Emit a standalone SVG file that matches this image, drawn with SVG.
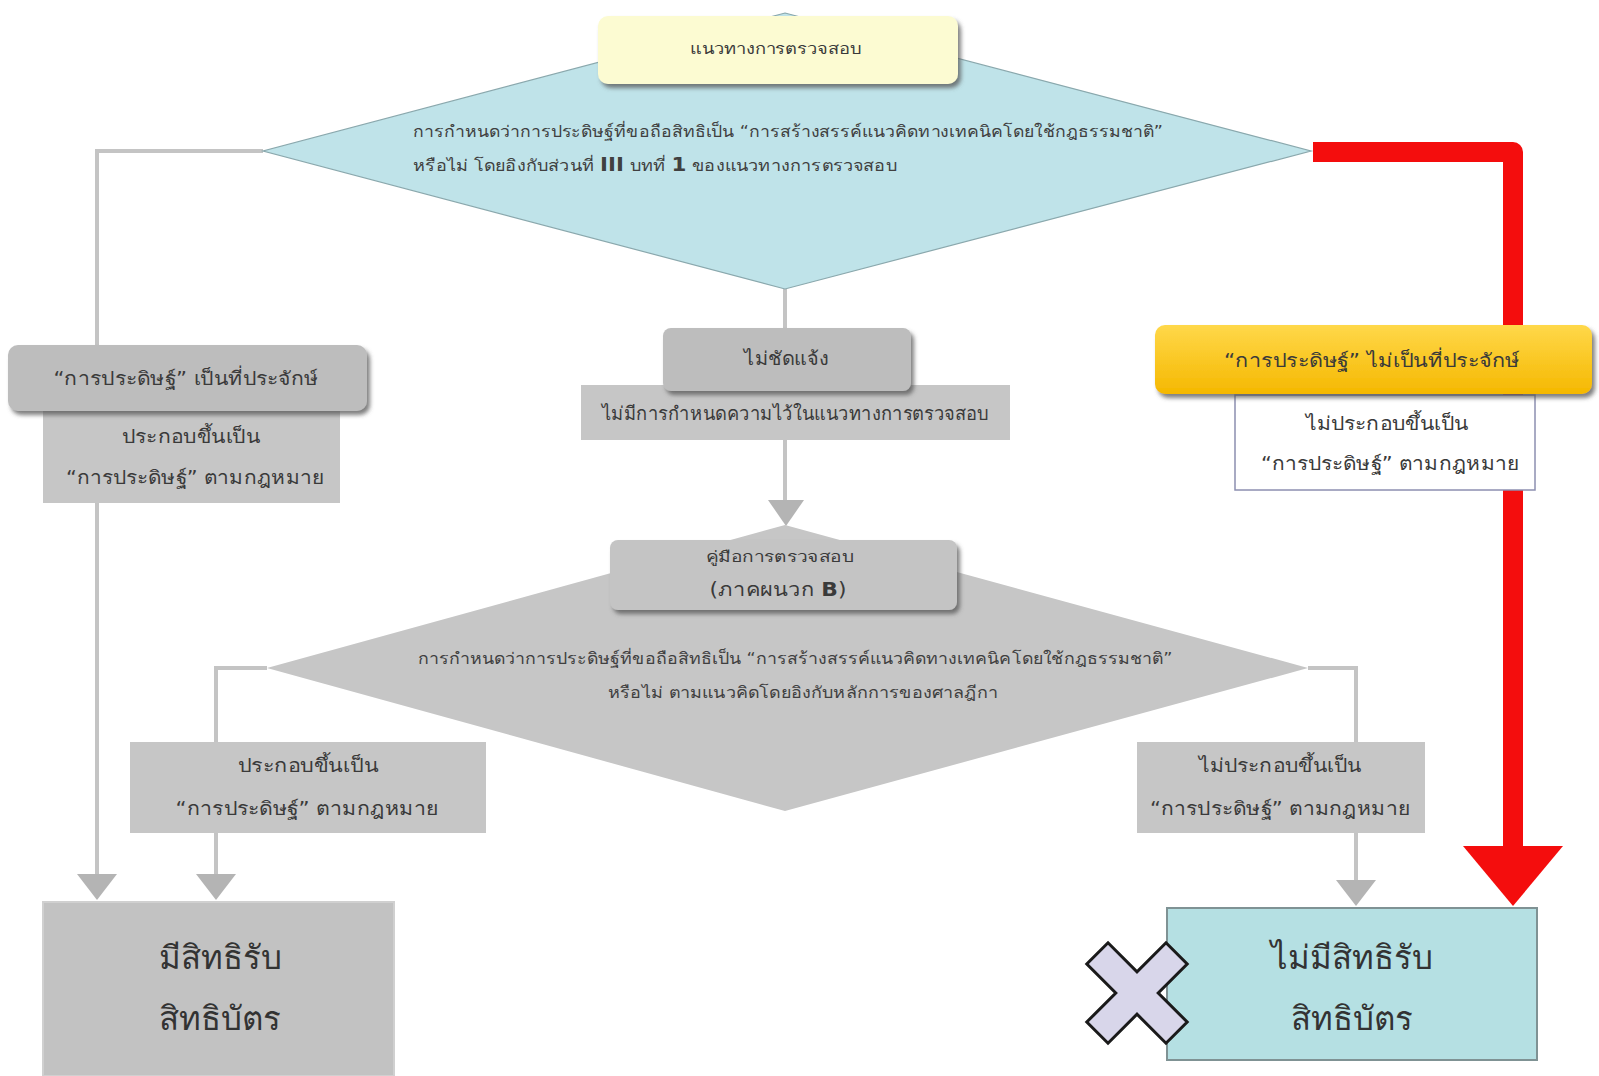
<svg xmlns="http://www.w3.org/2000/svg" width="1599" height="1076" viewBox="0 0 1599 1076">
  <defs>
    <filter id="shadow" x="-10%" y="-20%" width="130%" height="160%">
      <feDropShadow dx="3" dy="4" stdDeviation="2" flood-color="#555" flood-opacity="0.75"/>
    </filter>
    <linearGradient id="gold" x1="0" y1="0" x2="0" y2="1">
      <stop offset="0" stop-color="#ffd84a"/>
      <stop offset="1" stop-color="#f5b800"/>
    </linearGradient>
    <style>
      text { font-family: "DejaVu Sans", "Noto Sans", sans-serif; fill: #3a3a3a; text-anchor: middle; }
      text.start { text-anchor: start; }
      .small { font-size: 15px; }
      .dia { font-size: 16px; fill: #404040; }
      .mid { font-size: 19px; }
      .big { font-size: 33px; fill: #333; }
      .conn { fill: none; stroke: #c4c4c4; stroke-width: 4; }
      .head { fill: #bdbdbd; }
      .grey { fill: #c6c6c6; }
    </style>
  </defs>
  <rect width="1599" height="1076" fill="#ffffff"/>

  <!-- connectors -->
  <g id="connectors">
    <path class="conn" d="M263,151 H97 V880"/>
    <path class="conn" d="M785,289 V505" stroke-width="6"/>
    <path class="conn" d="M267,668 H216 V880"/>
    <path class="conn" d="M1308,668 H1356 V884"/>
    <polygon points="77,874 117,874 97,900" fill="#b4b4b4"/>
    <polygon points="196,874 236,874 216,900" fill="#b4b4b4"/>
    <polygon points="1336,880 1376,880 1356,906" fill="#b4b4b4"/>
    <polygon points="768,500 804,500 786,526" fill="#b4b4b4"/>
    <!-- heavy red route on the right -->
    <path d="M1313,152 H1513 V850" fill="none" stroke="#f40d0d" stroke-width="20" stroke-linejoin="round"/>
    <polygon points="1463,846 1563,846 1513,906" fill="#f40d0d"/>
  </g>

  <!-- upper decision -->
  <g id="decision1">
    <polygon points="785,13 1311,151 785,289 263,151" fill="#bfe3e9" stroke="#8aa8ad" stroke-width="1.2"/>
    <text class="dia start" x="413" y="137" textLength="750" lengthAdjust="spacingAndGlyphs">การกำหนดว่าการประดิษฐ์ที่ขอถือสิทธิเป็น “การสร้างสรรค์แนวคิดทางเทคนิคโดยใช้กฎธรรมชาติ”</text>
    <text class="dia start" x="413" y="171" textLength="484" lengthAdjust="spacingAndGlyphs">หรือไม่ โดยอิงกับส่วนที่ <tspan font-weight="bold" font-size="19">III</tspan> บทที่ <tspan font-weight="bold" font-size="19">1</tspan> ของแนวทางการตรวจสอบ</text>
  </g>

  <g id="guideline">
    <rect x="598" y="16" width="360" height="68" rx="10" fill="#fcfbd2" filter="url(#shadow)"/>
    <text class="small" x="776" y="54" textLength="172" lengthAdjust="spacingAndGlyphs">แนวทางการตรวจสอบ</text>
  </g>

  <!-- left branch -->
  <g id="obvious">
    <rect x="43" y="405" width="297" height="98" class="grey"/>
    <rect x="8" y="345" width="359" height="66" rx="10" class="head" filter="url(#shadow)"/>
    <text class="mid" x="186" y="385" textLength="265" lengthAdjust="spacingAndGlyphs">“การประดิษฐ์” เป็นที่ประจักษ์</text>
    <text class="mid" x="191" y="443" textLength="138" lengthAdjust="spacingAndGlyphs">ประกอบขึ้นเป็น</text>
    <text class="mid" x="195" y="484" textLength="258" lengthAdjust="spacingAndGlyphs">“การประดิษฐ์” ตามกฎหมาย</text>
  </g>

  <!-- centre branch -->
  <g id="unclear">
    <rect x="581" y="385" width="429" height="55" class="grey"/>
    <rect x="663" y="328" width="248" height="63" rx="8" class="head" filter="url(#shadow)"/>
    <text class="mid" x="786" y="365" textLength="84" lengthAdjust="spacingAndGlyphs">ไม่ชัดแจ้ง</text>
    <text class="mid" x="795" y="420" textLength="387" lengthAdjust="spacingAndGlyphs">ไม่มีการกำหนดความไว้ในแนวทางการตรวจสอบ</text>
  </g>

  <!-- lower decision -->
  <g id="decision2">
    <polygon points="785,525 1308,668 785,811 267,668" fill="#c6c6c6"/>
    <text class="dia" x="795" y="664" textLength="755" lengthAdjust="spacingAndGlyphs">การกำหนดว่าการประดิษฐ์ที่ขอถือสิทธิเป็น “การสร้างสรรค์แนวคิดทางเทคนิคโดยใช้กฎธรรมชาติ”</text>
    <text class="dia" x="803" y="698" textLength="390" lengthAdjust="spacingAndGlyphs">หรือไม่ ตามแนวคิดโดยอิงกับหลักการของศาลฎีกา</text>
  </g>

  <g id="handbook">
    <rect x="610" y="540" width="347" height="70" rx="8" fill="#c4c4c4" filter="url(#shadow)"/>
    <text class="small" x="780" y="562" textLength="149" lengthAdjust="spacingAndGlyphs">คู่มือการตรวจสอบ</text>
    <text class="mid" x="778" y="596" textLength="137" lengthAdjust="spacingAndGlyphs">(ภาคผนวก <tspan font-weight="bold">B</tspan>)</text>
  </g>

  <g id="lower-yes">
    <rect x="130" y="742" width="356" height="91" class="grey"/>
    <text class="mid" x="308" y="772" textLength="141" lengthAdjust="spacingAndGlyphs">ประกอบขึ้นเป็น</text>
    <text class="mid" x="307" y="815" textLength="263" lengthAdjust="spacingAndGlyphs">“การประดิษฐ์” ตามกฎหมาย</text>
  </g>

  <g id="lower-no">
    <rect x="1137" y="742" width="288" height="91" class="grey"/>
    <text class="mid" x="1280" y="772" textLength="163" lengthAdjust="spacingAndGlyphs">ไม่ประกอบขึ้นเป็น</text>
    <text class="mid" x="1280" y="815" textLength="260" lengthAdjust="spacingAndGlyphs">“การประดิษฐ์” ตามกฎหมาย</text>
  </g>

  <!-- right branch -->
  <g id="not-obvious">
    <rect x="1235" y="395" width="300" height="95" fill="#ffffff" stroke="#8c8fb0" stroke-width="1.5"/>
    <rect x="1155" y="325" width="437" height="69" rx="10" fill="url(#gold)" filter="url(#shadow)"/>
    <text class="mid" x="1372" y="367" textLength="296" lengthAdjust="spacingAndGlyphs">“การประดิษฐ์” ไม่เป็นที่ประจักษ์</text>
    <text class="mid" x="1387" y="430" textLength="163" lengthAdjust="spacingAndGlyphs">ไม่ประกอบขึ้นเป็น</text>
    <text class="mid" x="1390" y="470" textLength="258" lengthAdjust="spacingAndGlyphs">“การประดิษฐ์” ตามกฎหมาย</text>
  </g>

  <!-- outcomes -->
  <g id="patentable">
    <rect x="43" y="902" width="351" height="174" fill="#c2c2c2" stroke="#d0d0d0" stroke-width="2"/>
    <text class="big" x="220" y="969">มีสิทธิรับ</text>
    <text class="big" x="220" y="1030">สิทธิบัตร</text>
  </g>

  <g id="not-patentable">
    <rect x="1167" y="908" width="370" height="152" fill="#b5e0e3" stroke="#7f9294" stroke-width="2"/>
    <text class="big" x="1352" y="969">ไม่มีสิทธิรับ</text>
    <text class="big" x="1352" y="1030">สิทธิบัตร</text>
    <polygon transform="translate(1137,993) rotate(45)" points="-15,-56 15,-56 15,-15 56,-15 56,15 15,15 15,56 -15,56 -15,15 -56,15 -56,-15 -15,-15" fill="#d8d6ea" stroke="#1a1a1a" stroke-width="3" stroke-linejoin="miter"/>
  </g>
</svg>
